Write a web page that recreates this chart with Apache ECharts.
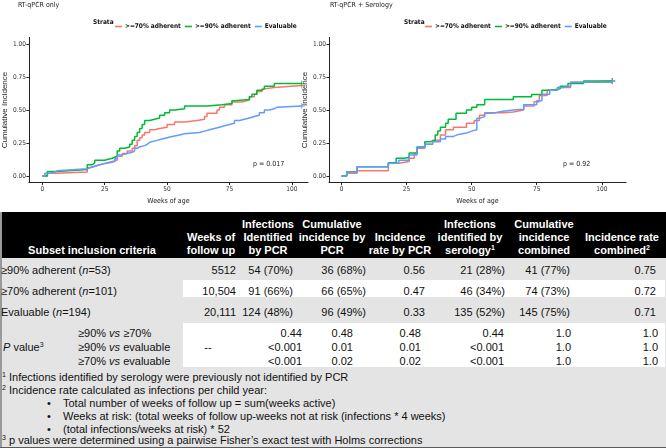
<!DOCTYPE html>
<html>
<head>
<meta charset="utf-8">
<script src="https://cdn.jsdelivr.net/npm/echarts@6/dist/echarts.min.js"></script>
<style>
  body { margin: 0; background: #fff; font-family: 'Liberation Sans', Arial, sans-serif; }
  #chart { position: absolute; left: 0; top: 0; width: 666px; height: 210px; }
  #tbl { position: absolute; left: 0; top: 0; width: 666px; height: 448px; overflow: hidden; color: #111; font-size: 11px; }
  #tbl div { position: absolute; white-space: nowrap; }
  sup { font-size: 7px; vertical-align: 4px; line-height: 0; }
</style>
</head>
<body>
<div id="chart"></div>
<div id="tbl"></div>
<script>
// strata names + colours (ggplot default hue)
const strata = ['>=70% adherent', '>=90% adherent', 'Evaluable']
const strataColors = ['#F8766D', '#00BA38', '#619CFF']
const weekTicks = [0, 25, 50, 75, 100]
const incTicks = [0, 0.25, 0.5, 0.75, 1]

// RT-qPCR only  (weeks of age, cumulative incidence)
const pcr70Weeks = [0, 2, 6, 18, 20, 22, 24, 26, 28, 30, 32, 34, 36, 37, 38, 39, 40, 41, 43, 45, 47, 50, 53, 57, 62, 65, 66, 70, 71, 73, 76, 80, 83, 85, 86, 88, 89, 93, 104]
const pcr70 = [0, 0.02, 0.03, 0.065, 0.08, 0.09, 0.10, 0.11, 0.12, 0.15, 0.17, 0.19, 0.21, 0.23, 0.27, 0.29, 0.31, 0.33, 0.35, 0.36, 0.37, 0.39, 0.41, 0.42, 0.43, 0.45, 0.475, 0.50, 0.52, 0.54, 0.56, 0.575, 0.60, 0.62, 0.64, 0.66, 0.67, 0.685, 0.685]
const pcr90Weeks = [0, 2, 6, 18, 20, 21, 25, 28, 30, 31, 33, 35, 36, 37, 38, 39, 40, 41, 43, 45, 47, 49, 51, 53, 57, 66, 72, 76, 77, 83, 84, 86, 88, 89, 93, 104]
const pcr90 = [0, 0.035, 0.05, 0.085, 0.10, 0.12, 0.135, 0.15, 0.19, 0.21, 0.22, 0.24, 0.27, 0.30, 0.33, 0.36, 0.39, 0.42, 0.43, 0.44, 0.46, 0.48, 0.50, 0.51, 0.53, 0.54, 0.55, 0.57, 0.58, 0.60, 0.62, 0.65, 0.66, 0.68, 0.70, 0.70]
const pcrEvalWeeks = [0, 1, 3, 5, 6, 18, 20, 22, 24, 27, 29, 30, 32, 34, 36, 37, 38, 39, 41, 42, 43, 46, 48, 50, 52, 55, 57, 63, 65, 67, 69, 71, 73, 75, 77, 79, 81, 83, 85, 87, 89, 91, 93, 94, 104]
const pcrEval = [0, 0.02, 0.03, 0.04, 0.055, 0.07, 0.08, 0.09, 0.10, 0.11, 0.13, 0.16, 0.17, 0.18, 0.19, 0.21, 0.22, 0.23, 0.24, 0.255, 0.27, 0.28, 0.29, 0.30, 0.31, 0.32, 0.33, 0.34, 0.35, 0.36, 0.37, 0.38, 0.39, 0.40, 0.42, 0.43, 0.44, 0.45, 0.46, 0.48, 0.50, 0.51, 0.52, 0.53, 0.53]

// RT-qPCR + serology
const comb70Weeks = [0, 2, 6, 18, 22, 26, 28, 29, 32, 35, 38, 40, 43, 48, 51, 53, 55, 62, 66, 70, 74, 76, 79, 83, 88, 93, 104]
const comb70 = [0, 0.02, 0.04, 0.096, 0.11, 0.134, 0.17, 0.21, 0.24, 0.27, 0.31, 0.35, 0.37, 0.40, 0.42, 0.46, 0.48, 0.485, 0.50, 0.53, 0.563, 0.61, 0.65, 0.67, 0.71, 0.72, 0.72]
const comb90Weeks = [0, 2, 6, 18, 21, 24, 26, 29, 32, 34, 36, 37, 38, 40, 41, 44, 48, 50, 52, 55, 66, 73, 77, 80, 84, 87, 93, 104]
const comb90 = [0, 0.033, 0.07, 0.10, 0.134, 0.14, 0.174, 0.22, 0.26, 0.27, 0.31, 0.34, 0.37, 0.40, 0.43, 0.475, 0.50, 0.52, 0.54, 0.58, 0.60, 0.617, 0.65, 0.66, 0.68, 0.70, 0.72, 0.72]
const combEvalWeeks = [0, 2, 6, 18, 22, 26, 29, 32, 35, 38, 40, 43, 45, 48, 50, 52, 53, 55, 58, 62, 66, 70, 75, 77, 80, 83, 85, 88, 104]
const combEval = [0, 0.03, 0.07, 0.096, 0.12, 0.16, 0.22, 0.24, 0.26, 0.28, 0.30, 0.315, 0.325, 0.34, 0.35, 0.437, 0.45, 0.475, 0.49, 0.50, 0.505, 0.54, 0.57, 0.62, 0.65, 0.67, 0.68, 0.71, 0.715]

const panelTitles = ['RT-qPCR only', 'RT-qPCR + Serology']
const pTexts = ['p = 0.017', 'p = 0.92']

// table
const subsetNames = ['≥90% adherent', '≥70% adherent', 'Evaluable']
const subsetN = [53, 101, 194]
const weeksFollow = ['5512', '10,504', '20,111']
const pcrInfections = ['54 (70%)', '91 (66%)', '124 (48%)']
const pcrCumulative = ['36 (68%)', '66 (65%)', '96 (49%)']
const pcrRate = ['0.56', '0.47', '0.33']
const serologyInfections = ['21 (28%)', '46 (34%)', '135 (52%)']
const combinedCumulative = ['41 (77%)', '74 (73%)', '145 (75%)']
const combinedRate = ['0.75', '0.72', '0.71']
const pComparisons = ['≥90% <i>vs</i> ≥70%', '≥90% <i>vs</i> evaluable', '≥70% <i>vs</i> evaluable']
const pPcrInfections = ['0.44', '<0.001', '<0.001']
const pPcrCumulative = ['0.48', '0.01', '0.02']
const pPcrRate = ['0.48', '0.01', '0.02']
const pSerology = ['0.44', '<0.001', '<0.001']
const pCombinedCumulative = ['1.0', '1.0', '1.0']
const pCombinedRate = ['1.0', '1.0', '1.0']
const headers = [
  ['Subset inclusion criteria'],
  ['Weeks of', 'follow up'],
  ['Infections', 'Identified', 'by PCR'],
  ['Cumulative', 'incidence by', 'PCR'],
  ['Incidence', 'rate by PCR'],
  ['Infections', 'identified by', 'serology<sup>1</sup>'],
  ['Cumulative', 'incidence', 'combined'],
  ['Incidence rate', 'combined<sup>2</sup>']
]
const footnotes = [
  '<sup>1</sup> Infections identified by serology were previously not identified by PCR',
  '<sup>2</sup> Incidence rate calculated as infections per child year:',
  'Total number of weeks of follow up = sum(weeks active)',
  'Weeks at risk: (total weeks of follow up-weeks not at risk (infections * 4 weeks)',
  '(total infections/weeks at risk) * 52',
  '<sup>3</sup> p values were determined using a pairwise Fisher’s exact test with Holms corrections'
]

const NARROW = "'Liberation Sans Narrow', 'DejaVu Sans Condensed', sans-serif"
const plus = 'path://M2.6,0h0.8v6h-0.8zM0,2.6h6v0.8h-6z'

function steps (weeks, vals) {
  return weeks.map((w, i) => {
    if (i === weeks.length - 1) return { value: [w, vals[i]], symbol: plus, symbolSize: 6 }
    return [w, vals[i]]
  })
}

function kmSeries (name, color, idx, weeks, vals) {
  return {
    type: 'line', name: name, step: 'end', xAxisIndex: idx, yAxisIndex: idx,
    data: steps(weeks, vals), symbol: 'none', showSymbol: true, silent: true, animation: false,
    lineStyle: { color: color, width: 1.5 }, itemStyle: { color: color }
  }
}

function xAxis (idx, min, max) {
  return {
    gridIndex: idx, type: 'value', min: min, max: max,
    axisLine: { onZero: false, lineStyle: { color: '#222', width: 1 } },
    axisTick: { length: 2.5, customValues: weekTicks, lineStyle: { color: '#222' } },
    axisLabel: { customValues: weekTicks, fontSize: 6.5, color: '#333', margin: 3, fontFamily: NARROW },
    splitLine: { show: false },
    name: 'Weeks of age', nameLocation: 'middle', nameGap: 8,
    nameTextStyle: { fontSize: 7, color: '#222', fontFamily: NARROW }
  }
}
function yAxis (idx, gap) {
  return {
    gridIndex: idx, type: 'value', min: -0.05, max: 1.05,
    axisLine: { onZero: false, lineStyle: { color: '#222', width: 1 } },
    axisTick: { length: 2.5, customValues: incTicks, lineStyle: { color: '#222' } },
    axisLabel: { customValues: incTicks, fontSize: 6.5, color: '#333', margin: 3, fontFamily: NARROW,
      formatter: v => v.toFixed(2) },
    splitLine: { show: false },
    name: 'Cumulative Incidence', nameLocation: 'middle', nameGap: gap,
    nameTextStyle: { fontSize: 8, color: '#222', fontFamily: "'Liberation Sans', Arial, sans-serif" }
  }
}
function legend (left) {
  return {
    left: left, top: 18, data: strata, icon: 'rect', itemWidth: 7, itemHeight: 1.6, itemGap: 4,
    selectedMode: false,
    textStyle: { fontSize: 6.5, fontWeight: 'bold', color: '#111', fontFamily: NARROW, padding: [0, 0, 0, -2] }
  }
}
function label (x, y, text, opts) {
  return { type: 'text', x: x, y: y, style: Object.assign({ text: text, fontSize: 7, fill: '#222',
    fontFamily: NARROW, verticalAlign: 'middle' }, opts || {}) }
}

let chart = echarts.init(document.getElementById('chart'))
chart.setOption({
  animation: false,
  grid: [
    { left: 17, top: 37.4, width: 291, height: 145.2 },
    { left: 329, top: 37.4, width: 297, height: 145.2 }
  ],
  xAxis: [xAxis(0, -5.4, 106.5), xAxis(1, -4.8, 109.3)],
  yAxis: [yAxis(0, 9), yAxis(1, 11)],
  legend: [legend(110), legend(420)],
  graphic: [
    label(18, 5, panelTitles[0]),
    label(330, 5, panelTitles[1]),
    label(93, 22, 'Strata', { fontWeight: 'bold', fontSize: 6.5, fill: '#111' }),
    label(404, 22, 'Strata', { fontWeight: 'bold', fontSize: 6.5, fill: '#111' }),
    label(253, 164, pTexts[0]),
    label(563, 164, pTexts[1])
  ],
  series: [
    kmSeries(strata[0], strataColors[0], 0, pcr70Weeks, pcr70),
    kmSeries(strata[1], strataColors[1], 0, pcr90Weeks, pcr90),
    kmSeries(strata[2], strataColors[2], 0, pcrEvalWeeks, pcrEval),
    kmSeries(strata[0], strataColors[0], 1, comb70Weeks, comb70),
    kmSeries(strata[1], strataColors[1], 1, comb90Weeks, comb90),
    kmSeries(strata[2], strataColors[2], 1, combEvalWeeks, combEval)
  ]
})

// ---- table below the charts ----
const tbl = document.getElementById('tbl')
function box (x, y, w, h, color) {
  let d = document.createElement('div')
  d.style.cssText = `left:${x}px;top:${y}px;width:${w}px;height:${h}px;background:${color};`
  tbl.appendChild(d)
}
function txt (x, y, html, align, extra) {
  let d = document.createElement('div')
  d.innerHTML = html
  let tr = align === 'right' ? 'transform:translateX(-100%);' : align === 'center' ? 'transform:translateX(-50%);' : ''
  d.style.cssText = `left:${x}px;top:${y - 7}px;line-height:14px;${tr}${extra || ''}`
  tbl.appendChild(d)
}

box(0, 212, 666, 46, '#000')
box(0, 258, 666, 190, '#e4e4e4')
box(183, 280, 482, 17, '#fff')
box(183, 323, 482, 44, '#fff')
box(0, 212, 2, 236, '#9a9a9a')
box(0, 446.5, 666, 1.5, '#5a5a5a')

const headCenters = [92, 211, 268, 332, 400, 470, 544, 622]
const headLineY = [224, 237, 250]
headers.forEach((lines, c) => {
  let start = 3 - lines.length
  lines.forEach((t, k) => txt(headCenters[c], headLineY[start + k], t, 'center', 'color:#fff;font-weight:bold;'))
})

const rowY = [270, 291, 312]
const colRight = [236, 293, 366, 425, 505, 570, 656]
const cols = [weeksFollow, pcrInfections, pcrCumulative, pcrRate, serologyInfections, combinedCumulative, combinedRate]
subsetNames.forEach((name, r) => {
  txt(1, rowY[r], `${name} (<i>n</i>=${subsetN[r]})`, 'left')
  cols.forEach((col, c) => txt(colRight[c], rowY[r], col[r], 'right'))
})

const pLineY = [333, 347, 361]
const pRight = [302, 353, 421, 504, 571, 658]
const pCols = [pPcrInfections, pPcrCumulative, pPcrRate, pSerology, pCombinedCumulative, pCombinedRate]
txt(3, 347, '<i>P</i> value<sup>3</sup>', 'left')
txt(208, 347, '--', 'center')
pComparisons.forEach((t, r) => {
  txt(78, pLineY[r], t, 'left')
  pCols.forEach((col, c) => txt(pRight[c], pLineY[r], col[r], 'right'))
})

const noteY = [377, 390, 403, 416, 429, 440]
footnotes.forEach((t, i) => {
  if (i >= 2 && i <= 4) {
    txt(47, noteY[i], '•', 'left')
    txt(63, noteY[i], t, 'left')
  } else {
    txt(2, noteY[i], t, 'left')
  }
})
</script>
</body>
</html>
